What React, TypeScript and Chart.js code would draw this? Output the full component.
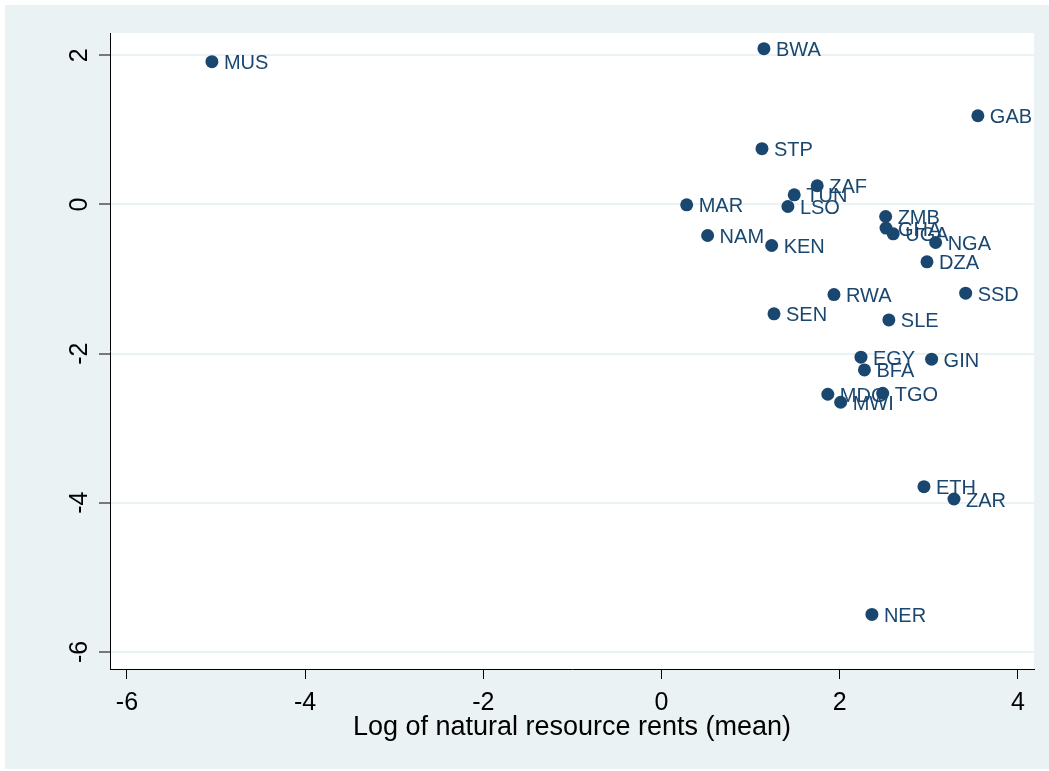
import React, { useEffect, useRef } from 'react';
import { Chart, registerables } from 'chart.js';

Chart.register(...registerables);

const codes = ['MUS', 'BWA', 'GAB', 'STP', 'ZAF', 'TUN', 'MAR', 'LSO', 'ZMB', 'GHA', 'UGA', 'NGA', 'NAM', 'KEN', 'DZA', 'RWA', 'SSD', 'SEN', 'SLE', 'EGY', 'GIN', 'BFA', 'MDG', 'MWI', 'TGO', 'ETH', 'ZAR', 'NER'];
const xValues = [-5.046, 1.149, 3.55, 1.127, 1.747, 1.489, 0.282, 1.418, 2.515, 2.519, 2.6, 3.076, 0.517, 1.236, 2.979, 1.935, 3.413, 1.262, 2.551, 2.238, 3.031, 2.277, 1.866, 2.01, 2.482, 2.945, 3.282, 2.361];
const yValues = [1.915, 2.09, 1.19, 0.748, 0.251, 0.13, -0.004, -0.027, -0.161, -0.317, -0.393, -0.51, -0.416, -0.55, -0.769, -1.208, -1.189, -1.467, -1.548, -2.048, -2.075, -2.219, -2.545, -2.652, -2.532, -3.785, -3.95, -5.498];
const xTicks = [-6, -4, -2, 0, 2, 4];
const yTicks = [-6, -4, -2, 0, 2];
const xTitle = 'Log of natural resource rents (mean)';

const NAVY = '#1a476f';
const BG = '#eaf2f3';
const FONT = '"Liberation Sans", Arial, sans-serif';

export default function App() {
  const ref = useRef<HTMLCanvasElement>(null);
  useEffect(() => {
    const bgPlugin = {
      id: 'bg',
      beforeDraw(chart: any) {
        const { ctx, chartArea: a } = chart;
        ctx.save();
        ctx.fillStyle = '#ffffff';
        ctx.fillRect(0, 0, chart.width, chart.height);
        ctx.fillStyle = BG;
        ctx.fillRect(5, 5, chart.width - 5, chart.height - 7);
        ctx.fillStyle = '#ffffff';
        ctx.fillRect(a.left, a.top, a.right - a.left, a.bottom - a.top);
        ctx.restore();
      },
    };
    const labelPlugin = {
      id: 'pointLabels',
      afterDatasetsDraw(chart: any) {
        const { ctx } = chart;
        const meta = chart.getDatasetMeta(0);
        ctx.save();
        ctx.font = `20px ${FONT}`;
        ctx.fillStyle = NAVY;
        ctx.textAlign = 'left';
        ctx.textBaseline = 'middle';
        meta.data.forEach((pt: any, i: number) => {
          ctx.fillText(codes[i], pt.x + 12, pt.y + 2);
        });
        ctx.restore();
      },
    };
    const chart = new Chart(ref.current as HTMLCanvasElement, {
      type: 'scatter',
      data: {
        datasets: [
          {
            data: xValues.map((x, i) => ({ x, y: yValues[i] })),
            backgroundColor: NAVY,
            borderWidth: 0,
            pointRadius: 6.5,
            pointHoverRadius: 6.5,
          },
        ],
      },
      options: {
        responsive: false,
        animation: false,
        plugins: { legend: { display: false }, tooltip: { enabled: false } },
        layout: { padding: { left: 0, top: 33, right: 15, bottom: 0 } },
        scales: {
          x: {
            type: 'linear',
            position: 'bottom',
            min: -6.19,
            max: 4.18,
            afterBuildTicks: (s: any) => {
              s.ticks = xTicks.map((v) => ({ value: v }));
            },
            afterFit: (s: any) => {
              s.height = 102;
            },
            grid: { display: true, drawOnChartArea: false, drawTicks: true, tickLength: 10, color: '#000', lineWidth: 1 },
            border: { display: true, color: '#000', width: 1 },
            ticks: { color: '#000', font: { family: FONT, size: 25 }, padding: 9, minRotation: 0, maxRotation: 0, autoSkip: false },
            title: { display: true, text: xTitle, color: '#000', font: { family: FONT, size: 27 }, padding: { top: 0, bottom: 27 } },
          },
          y: {
            type: 'linear',
            min: -6.23,
            max: 2.3,
            afterBuildTicks: (s: any) => {
              s.ticks = yTicks.map((v) => ({ value: v }));
            },
            afterFit: (s: any) => {
              s.width = 110;
            },
            grid: { display: true, color: BG, lineWidth: 2, drawTicks: true, tickLength: 11, tickColor: '#000', tickWidth: 1 },
            border: { display: true, color: '#000', width: 1 },
            ticks: { color: '#000', font: { family: FONT, size: 25 }, padding: 8, minRotation: 90, maxRotation: 90, crossAlign: 'center', autoSkip: false },
          },
        },
      },
      plugins: [bgPlugin, labelPlugin],
    } as any);
    return () => chart.destroy();
  }, []);
  return (
    <div style={{ position: 'absolute', left: 0, top: 0, width: 1049, height: 771 }}>
      <canvas ref={ref} width={1049} height={771} style={{ display: 'block' }} />
    </div>
  );
}
